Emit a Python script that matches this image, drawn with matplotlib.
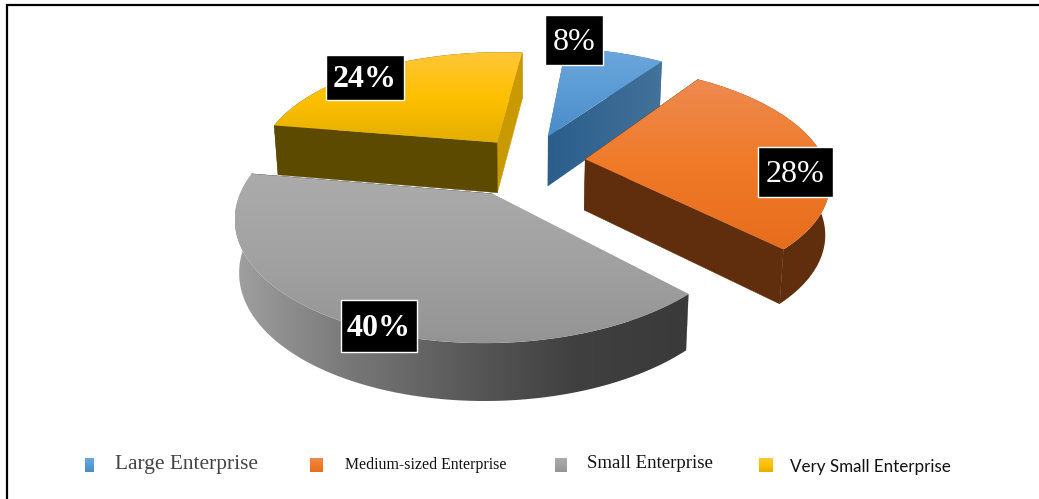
import numpy as np
import matplotlib
matplotlib.use("Agg")
import matplotlib.pyplot as plt
from matplotlib.colors import LinearSegmentedColormap
from matplotlib.patches import Polygon, Rectangle

# enterprise size shares (percent)
names = ["Large Enterprise", "Medium-sized Enterprise", "Small Enterprise", "Very Small Enterprise"]
shares = [8, 28, 40, 24]
explode = [0.25, 0.24, 0.31, 0.22]

# top face gradients, back to front
top_colors = [
    ["#6DA7DC", "#5B9BD5", "#4A8CC9"],
    ["#EE8A50", "#F07A28", "#E76D1C"],
    ["#ABABAB", "#A2A2A2", "#949494"],
    ["#FEC638", "#FFC000", "#E3AE00"],
]
# walls: start radial face, end radial face, outer face (left to right)
wall_colors = [
    ["#43729A", ["#2B5E8C", "#43729A"], ["#2B5E8C", "#43729A"]],
    ["#5F2E0C", "#602E0D", ["#5D2C0B", "#612F0D"]],
    ["#A5A5A5", "#3D3D3D", ["#A0A0A0", "#787878", "#5A5A5A", "#404040", "#3A3A3A"]],
    ["#5C4A00", "#C99A00", ["#5C4A00", "#5C4A00"]],
]
label_text = ["8%", "28%", "40%", "24%"]
label_weight = ["normal", "normal", "bold", "bold"]
label_center = [(574, 40), (795, 172), (379, 326), (365, 77)]
label_size = [(58, 50), (75, 50), (76, 52), (78, 45)]

# legend layout
legend_x = [85, 310, 555, 759]
legend_w = [9, 13, 12, 14]
legend_text_x = [115, 345, 587, 790]
legend_text_y = [465, 465, 463, 467]
legend_font = [
    ("Liberation Serif", 15.4, "#444444"),
    ("Liberation Serif", 11.45, "#111111"),
    ("Liberation Serif", 13.5, "#111111"),
    ("Lato", 12.25, "#111111"),
]

# projection of the pie plane onto the page
cx, cy = 528.0, 161.5
R = 240.0
q = 0.465
k = 0.17
first_angle = 6.0
depth = 51.0


def project(u, v):
    w = 1 + k * v
    return cx + R * u / w, cy - R * q * v / w, w


def drop(x, y, w):
    # bottom edge of a wall: slightly pulled in, longer towards the front
    return cx + (x - cx) * 0.985, y + depth / (1 + 0.55 * (w - 1))


def gradient(ax, poly, stops, vertical=True):
    cmap = LinearSegmentedColormap.from_list("g", stops)
    ramp = np.linspace(0, 1, 256)
    ramp = ramp[:, None] if vertical else ramp[None, :]
    x0, y0 = poly.min(axis=0)
    x1, y1 = poly.max(axis=0)
    im = ax.imshow(ramp, cmap=cmap, extent=(x0, x1, y1, y0), origin="upper",
                   aspect="auto", interpolation="bilinear", zorder=2)
    patch = Polygon(poly, closed=True, transform=ax.transData, fc="none", ec="none")
    ax.add_patch(patch)
    im.set_clip_path(patch)


fig = plt.figure(figsize=(10.39, 4.99), dpi=100)
ax = fig.add_axes([0, 0, 1, 1])

# draw the far slices first so the near ones overlap them
angles = first_angle + np.cumsum([0] + shares) * 3.6
for i in [0, 3, 1, 2]:
    a0, a1 = np.radians(angles[i]), np.radians(angles[i + 1])
    mid = (a0 + a1) / 2
    ou, ov = explode[i] * np.sin(mid), explode[i] * np.cos(mid)
    t = np.linspace(a0, a1, 80)
    ax_x, ax_y, ax_w = project(ou, ov)
    arc_x, arc_y, arc_w = project(ou + np.sin(t), ov + np.cos(t))
    bx_arc, by_arc = drop(arc_x, arc_y, arc_w)
    bx_a, by_a = drop(ax_x, ax_y, ax_w)

    start_face = np.array([(ax_x, ax_y), (arc_x[0], arc_y[0]), (bx_arc[0], by_arc[0]), (bx_a, by_a)])
    end_face = np.array([(ax_x, ax_y), (arc_x[-1], arc_y[-1]), (bx_arc[-1], by_arc[-1]), (bx_a, by_a)])
    outer_face = np.vstack([np.c_[arc_x, arc_y], np.c_[bx_arc, by_arc][::-1]])
    top_face = np.vstack([[(ax_x, ax_y)], np.c_[arc_x, arc_y]])

    # back faces go down first
    faces = [(start_face, wall_colors[i][0]), (end_face, wall_colors[i][1]), (outer_face, wall_colors[i][2])]
    faces.sort(key=lambda f: f[0][:, 1].mean())
    for poly, col in faces:
        if isinstance(col, list):
            gradient(ax, poly, col, vertical=False)
        else:
            ax.add_patch(Polygon(poly, closed=True, fc=col, ec=col, lw=0.3, zorder=2))
    gradient(ax, top_face, top_colors[i])

# value labels
for txt, wt, (lx, ly), (bw, bh) in zip(label_text, label_weight, label_center, label_size):
    ax.add_patch(Rectangle((lx - bw / 2, ly - bh / 2), bw, bh, fc="black", ec="white", lw=1.0, zorder=5))
    ax.text(lx, ly + 2, txt, color="white", family="Liberation Serif", fontsize=23, weight=wt,
            ha="center", va="center", zorder=6)

# legend row
for i, name in enumerate(names):
    box = np.array([(legend_x[i], 458), (legend_x[i] + legend_w[i], 458),
                    (legend_x[i] + legend_w[i], 472), (legend_x[i], 472)], dtype=float)
    gradient(ax, box, top_colors[i])
    fam, size, col = legend_font[i]
    ax.text(legend_text_x[i], legend_text_y[i], name, family=fam, fontsize=size, color=col,
            ha="left", va="center", zorder=6)

# frame only on the top and left
ax.plot([6.5, 6.5, 1039], [499, 5, 5], color="black", lw=1.6, solid_joinstyle="miter", zorder=7)

ax.set_xlim(0, 1039)
ax.set_ylim(499, 0)
ax.axis("off")
fig.savefig("out.png", dpi=100, facecolor="white")
